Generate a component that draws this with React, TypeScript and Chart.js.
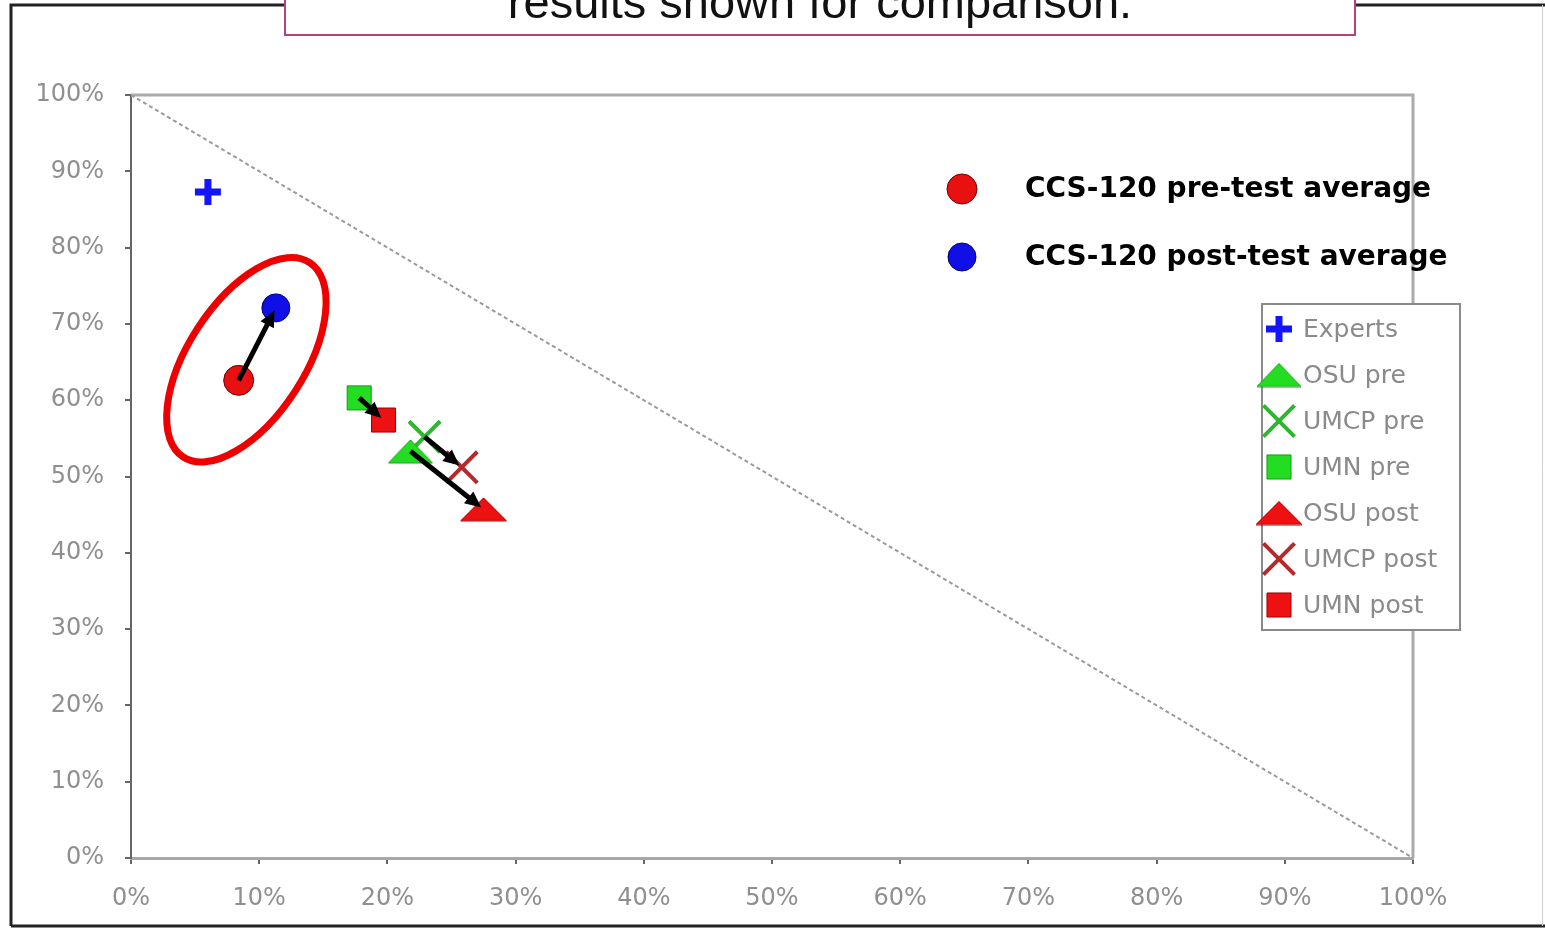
import React, { useEffect, useRef } from 'react';
import { Chart, registerables } from 'chart.js';
Chart.register(...registerables);

// ---------------- data ----------------
const seriesLabels = ['Experts', 'OSU pre', 'UMCP pre', 'UMN pre', 'OSU post', 'UMCP post', 'UMN post'];
const seriesX = [6.0, 21.8, 22.9, 17.8, 27.5, 25.8, 19.7];
const seriesY = [87.3, 53.3, 55.2, 60.3, 45.7, 51.2, 57.4];
const ccsLabels = ['CCS-120 pre-test average', 'CCS-120 post-test average'];
const ccsX = [8.4, 11.3];
const ccsY = [62.6, 72.1];
const arrowFrom = ['CCS-120 pre-test average', 'UMN pre', 'UMCP pre', 'OSU pre'];
const arrowTo = ['CCS-120 post-test average', 'UMN post', 'UMCP post', 'OSU post'];
const tickValues = [0, 10, 20, 30, 40, 50, 60, 70, 80, 90, 100];
const diagonalX = [0, 100];
const diagonalY = [100, 0];
const titleText = 'results shown for comparison.';
const highlightX = 9.0;
const highlightY = 65.3;

// ---------------- styles ----------------
const GREEN = '#22dd22';
const GREEN_X = '#2fb52f';
const RED = '#ee1111';
const DARK_RED_X = '#b52a2a';
const BLUE = '#1414ff';

function makeTriangle(fill: string, stroke: string, w: number, h: number) {
  const c = document.createElement('canvas');
  c.width = w + 2;
  c.height = h + 2;
  const ctx = c.getContext('2d')!;
  ctx.beginPath();
  ctx.moveTo((w + 2) / 2, 1);
  ctx.lineTo(w + 1, h + 1);
  ctx.lineTo(1, h + 1);
  ctx.closePath();
  ctx.fillStyle = fill;
  ctx.fill();
  ctx.strokeStyle = stroke;
  ctx.lineWidth = 1;
  ctx.stroke();
  return c;
}

type Marker = { style: any; fill: string; border: string; radius: number; bw: number };

function drawMarker(ctx: CanvasRenderingContext2D, m: Marker, x: number, y: number) {
  ctx.save();
  const r = m.radius;
  if (typeof m.style !== 'string') {
    const img = m.style as HTMLCanvasElement;
    ctx.drawImage(img, x - img.width / 2, y - img.height / 2);
  } else if (m.style === 'circle') {
    ctx.beginPath();
    ctx.arc(x, y, r, 0, Math.PI * 2);
    ctx.fillStyle = m.fill;
    ctx.fill();
    ctx.lineWidth = m.bw;
    ctx.strokeStyle = m.border;
    ctx.stroke();
  } else if (m.style === 'cross') {
    ctx.beginPath();
    ctx.moveTo(x, y - r);
    ctx.lineTo(x, y + r);
    ctx.moveTo(x - r, y);
    ctx.lineTo(x + r, y);
    ctx.lineWidth = m.bw;
    ctx.strokeStyle = m.border;
    ctx.stroke();
  } else if (m.style === 'crossRot') {
    const d = r * Math.SQRT1_2;
    ctx.beginPath();
    ctx.moveTo(x - d, y - d);
    ctx.lineTo(x + d, y + d);
    ctx.moveTo(x - d, y + d);
    ctx.lineTo(x + d, y - d);
    ctx.lineWidth = m.bw;
    ctx.strokeStyle = m.border;
    ctx.stroke();
  } else if (m.style === 'rect') {
    const s = r * Math.SQRT1_2;
    ctx.beginPath();
    ctx.rect(x - s, y - s, 2 * s, 2 * s);
    ctx.fillStyle = m.fill;
    ctx.fill();
    ctx.lineWidth = m.bw;
    ctx.strokeStyle = m.border;
    ctx.stroke();
  }
  ctx.restore();
}

export default function App() {
  const ref = useRef<HTMLCanvasElement>(null);

  useEffect(() => {
    const canvas = ref.current!;
    const greenTri = makeTriangle(GREEN, '#16a016', 44, 23);
    const redTri = makeTriangle(RED, '#b00000', 46, 23);

    const markers: Record<string, Marker> = {
      'Experts': { style: 'cross', fill: BLUE, border: BLUE, radius: 13, bw: 7 },
      'OSU pre': { style: greenTri, fill: GREEN, border: GREEN, radius: 22, bw: 0 },
      'UMCP pre': { style: 'crossRot', fill: GREEN_X, border: GREEN_X, radius: 22, bw: 4 },
      'UMN pre': { style: 'rect', fill: GREEN, border: '#149a14', radius: 17, bw: 1 },
      'OSU post': { style: redTri, fill: RED, border: RED, radius: 23, bw: 0 },
      'UMCP post': { style: 'crossRot', fill: DARK_RED_X, border: DARK_RED_X, radius: 22, bw: 4 },
      'UMN post': { style: 'rect', fill: RED, border: '#9a0000', radius: 17, bw: 1 },
      'CCS-120 pre-test average': { style: 'circle', fill: '#e81010', border: '#700000', radius: 15, bw: 1 },
      'CCS-120 post-test average': { style: 'circle', fill: '#1010e6', border: '#000070', radius: 14, bw: 1 },
    };

    const allLabels = [...ccsLabels, ...seriesLabels];
    const allX = [...ccsX, ...seriesX];
    const allY = [...ccsY, ...seriesY];

    const datasets: any[] = allLabels.map((label, i) => {
      const m = markers[label];
      return {
        label,
        type: 'scatter',
        data: [{ x: allX[i], y: allY[i] }],
        pointStyle: m.style,
        pointRadius: m.radius,
        pointBorderWidth: m.bw,
        backgroundColor: m.fill,
        borderColor: m.border,
        pointBackgroundColor: m.fill,
        pointBorderColor: m.border,
      };
    });
    datasets.push({
      label: 'diagonal',
      type: 'line',
      data: diagonalX.map((x, i) => ({ x, y: diagonalY[i] })),
      borderColor: '#9a9a9a',
      borderWidth: 2,
      borderDash: [4, 3],
      pointRadius: 0,
      fill: false,
    });

    const decor = {
      id: 'decor',
      beforeDraw(chart: any) {
        const ctx = chart.ctx as CanvasRenderingContext2D;
        ctx.save();
        ctx.fillStyle = '#ffffff';
        ctx.fillRect(0, 0, chart.width, chart.height);
        // outer frame
        ctx.strokeStyle = '#222';
        ctx.lineWidth = 3;
        ctx.beginPath();
        ctx.moveTo(11, 926);
        ctx.lineTo(11, 5);
        ctx.lineTo(1545, 5);
        ctx.moveTo(11, 926);
        ctx.lineTo(1545, 926);
        ctx.stroke();
        ctx.strokeStyle = '#cfcfcf';
        ctx.lineWidth = 1;
        ctx.beginPath();
        ctx.moveTo(1542.5, 5);
        ctx.lineTo(1542.5, 926);
        ctx.stroke();
        ctx.restore();
      },
      beforeDatasetsDraw(chart: any) {
        const ctx = chart.ctx as CanvasRenderingContext2D;
        const a = chart.chartArea;
        ctx.save();
        ctx.strokeStyle = '#ababab';
        ctx.lineWidth = 3;
        ctx.beginPath();
        ctx.moveTo(a.left, a.top);
        ctx.lineTo(a.right, a.top);
        ctx.lineTo(a.right, a.bottom);
        ctx.stroke();
        ctx.restore();
      },
      afterDatasetsDraw(chart: any) {
        const ctx = chart.ctx as CanvasRenderingContext2D;
        const xs = chart.scales.x;
        const ys = chart.scales.y;
        const px = (label: string) => {
          const i = allLabels.indexOf(label);
          return { x: xs.getPixelForValue(allX[i]), y: ys.getPixelForValue(allY[i]) };
        };
        ctx.save();
        // arrows
        arrowFrom.forEach((from, k) => {
          const p0 = px(from);
          const p1 = px(arrowTo[k]);
          const ang = Math.atan2(p1.y - p0.y, p1.x - p0.x);
          const ex = p1.x - Math.cos(ang) * 3;
          const ey = p1.y - Math.sin(ang) * 3;
          const head = 16;
          const hw = 7.5;
          ctx.strokeStyle = '#000';
          ctx.lineWidth = 5;
          ctx.beginPath();
          ctx.moveTo(p0.x, p0.y);
          ctx.lineTo(ex - Math.cos(ang) * head * 0.8, ey - Math.sin(ang) * head * 0.8);
          ctx.stroke();
          ctx.fillStyle = '#000';
          ctx.beginPath();
          ctx.moveTo(ex, ey);
          ctx.lineTo(ex - Math.cos(ang) * head - Math.sin(ang) * hw, ey - Math.sin(ang) * head + Math.cos(ang) * hw);
          ctx.lineTo(ex - Math.cos(ang) * head + Math.sin(ang) * hw, ey - Math.sin(ang) * head - Math.cos(ang) * hw);
          ctx.closePath();
          ctx.fill();
        });
        // highlight ellipse
        ctx.strokeStyle = '#ee0000';
        ctx.lineWidth = 7;
        ctx.beginPath();
        ctx.ellipse(xs.getPixelForValue(highlightX), ys.getPixelForValue(highlightY), 116, 58, (-57 * Math.PI) / 180, 0, Math.PI * 2);
        ctx.stroke();

        // CCS legend
        ccsLabels.forEach((label, i) => {
          const y = 189 + i * 68;
          drawMarker(ctx, markers[label], 962, y);
          ctx.fillStyle = '#000';
          ctx.font = 'bold 28px "DejaVu Sans"';
          ctx.textAlign = 'left';
          ctx.textBaseline = 'middle';
          ctx.fillText(label, 1025, y + 1);
        });

        // series legend box
        ctx.fillStyle = '#fff';
        ctx.fillRect(1262, 304, 198, 326);
        ctx.strokeStyle = '#8a8a8a';
        ctx.lineWidth = 2;
        ctx.strokeRect(1262, 304, 198, 326);
        seriesLabels.forEach((label, i) => {
          const y = 329 + i * 46;
          drawMarker(ctx, markers[label], 1279, y);
          ctx.fillStyle = '#8a8a8a';
          ctx.font = '25px "DejaVu Sans"';
          ctx.textAlign = 'left';
          ctx.textBaseline = 'middle';
          ctx.fillText(label, 1303, y + 1);
        });

        // title box
        ctx.fillStyle = '#fff';
        ctx.fillRect(285, -5, 1070, 40);
        ctx.strokeStyle = '#b8407e';
        ctx.lineWidth = 2;
        ctx.strokeRect(285, -5, 1070, 40);
        ctx.fillStyle = '#111';
        ctx.font = '47px "Liberation Sans"';
        ctx.textAlign = 'center';
        ctx.textBaseline = 'alphabetic';
        ctx.fillText(titleText, 820, 18);
        ctx.restore();
      },
    };

    const tickFont = { family: '"DejaVu Sans"', size: 24 };
    const chart = new Chart(canvas, {
      type: 'scatter',
      data: { datasets },
      options: {
        responsive: false,
        animation: false,
        devicePixelRatio: 1,
        layout: { padding: { left: 0, top: 95, right: 132, bottom: 0 } },
        plugins: { legend: { display: false }, tooltip: { enabled: false }, title: { display: false } },
        scales: {
          x: {
            type: 'linear',
            min: 0,
            max: 100,
            afterBuildTicks: (s: any) => {
              s.ticks = tickValues.map((v) => ({ value: v }));
            },
            afterFit: (s: any) => {
              s.height = 71;
            },
            ticks: {
              callback: (v: any) => v + '%',
              font: tickFont,
              color: '#8f8f8f',
              padding: 20,
              maxRotation: 0,
              autoSkip: false,
            },
            grid: { display: true, drawOnChartArea: false, drawTicks: true, tickLength: 6, color: '#666', lineWidth: 2 },
            border: { display: true, color: '#a8a8a8', width: 3 },
          },
          y: {
            type: 'linear',
            min: 0,
            max: 100,
            afterBuildTicks: (s: any) => {
              s.ticks = tickValues.map((v) => ({ value: v }));
            },
            afterFit: (s: any) => {
              s.width = 131;
            },
            ticks: {
              callback: (v: any) => v + '%',
              font: tickFont,
              color: '#8f8f8f',
              padding: 21,
              autoSkip: false,
            },
            grid: { display: true, drawOnChartArea: false, drawTicks: true, tickLength: 6, color: '#666', lineWidth: 2 },
            border: { display: true, color: '#666', width: 2 },
          },
        },
      } as any,
      plugins: [decor],
    } as any);
    return () => chart.destroy();
  }, []);

  return (
    <div style={{ position: 'fixed', left: 0, top: 0, width: 1545, height: 929, background: '#fff' }}>
      <canvas ref={ref} width={1545} height={929} style={{ width: 1545, height: 929, display: 'block' }} />
    </div>
  );
}
